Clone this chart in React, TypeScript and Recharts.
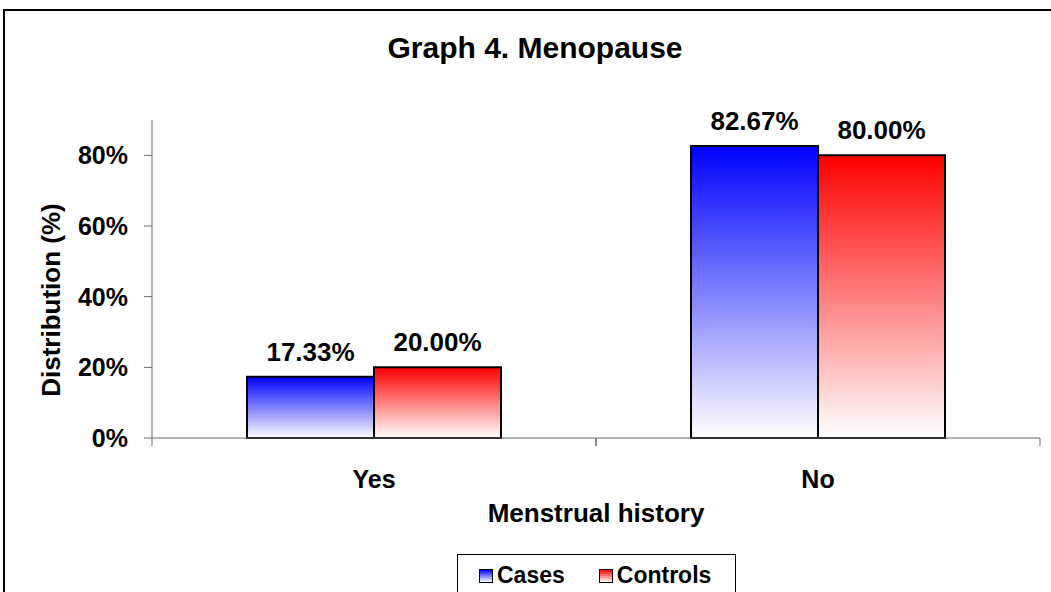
import React from "react";
import { BarChart, Bar, XAxis, YAxis, LabelList, Legend } from "recharts";

const categories = ["Yes", "No"];
const casesValues = [17.33, 82.67];
const controlsValues = [20.0, 80.0];
const yTicks = [0, 20, 40, 60, 80];

const data = categories.map((name, i) => ({
  name,
  Cases: casesValues[i],
  Controls: controlsValues[i],
}));

const FONT = '"Liberation Sans", Arial, sans-serif';
const W = 1051;
const H = 592;
const Y_AXIS_W = 152;
const RIGHT = 11;
const BAND = (W - Y_AXIS_W - RIGHT) / categories.length;

const series = [
  { key: "Cases", color: "#0000ff", grad: "gradBlue" },
  { key: "Controls", color: "#ff0000", grad: "gradRed" },
];

const XTick = (props: any) => {
  const { x, y, payload } = props;
  return (
    <g>
      <line x1={x - BAND / 2} y1={y} x2={x - BAND / 2} y2={y + 8} stroke="#666" />
      <line x1={x + BAND / 2} y1={y} x2={x + BAND / 2} y2={y + 8} stroke="#666" />
      <text
        x={x}
        y={y + 50}
        textAnchor="middle"
        fontFamily={FONT}
        fontWeight="bold"
        fontSize={25}
        fill="#000"
      >
        {payload.value}
      </text>
    </g>
  );
};

const renderLegend = () => (
  <div
    style={{
      width: 279,
      height: 60,
      border: "1px solid #000",
      background: "#fff",
      fontFamily: FONT,
      fontWeight: "bold",
      fontSize: 23,
      display: "flex",
      alignItems: "flex-start",
      paddingTop: 7,
      boxSizing: "border-box",
    }}
  >
    {series.map((s, i) => (
      <div
        key={s.key}
        style={{
          display: "flex",
          alignItems: "center",
          marginLeft: i === 0 ? 21 : 34,
        }}
      >
        <span
          style={{
            display: "inline-block",
            width: 12,
            height: 12,
            border: "1.5px solid #000",
            background: `linear-gradient(to bottom, ${s.color}, #ffffff)`,
            marginRight: 4,
          }}
        />
        <span>{s.key}</span>
      </div>
    ))}
  </div>
);

const App: React.FC = () => {
  return (
    <div
      style={{
        position: "absolute",
        left: 0,
        top: 0,
        width: W,
        height: H,
        overflow: "hidden",
        background: "#fff",
      }}
    >
      <div
        style={{
          position: "absolute",
          left: 3,
          top: 9,
          width: 1100,
          height: 700,
          border: "2px solid #000",
          boxSizing: "border-box",
        }}
      />
      <div
        style={{
          position: "absolute",
          left: 0,
          width: 1070,
          top: 30,
          textAlign: "center",
          fontFamily: FONT,
          fontWeight: "bold",
          fontSize: 30,
          lineHeight: "36px",
        }}
      >
        Graph 4. Menopause
      </div>
      <div style={{ position: "absolute", left: 0, top: 0 }}>
        <BarChart
          width={W}
          height={H}
          data={data}
          margin={{ top: 120, right: RIGHT, left: 0, bottom: 0 }}
          barCategoryGap="21.4%"
          barGap={0}
        >
          <defs>
            {series.map((s) => (
              <linearGradient key={s.grad} id={s.grad} x1="0" y1="0" x2="0" y2="1">
                <stop offset="0%" stopColor={s.color} />
                <stop offset="100%" stopColor="#ffffff" />
              </linearGradient>
            ))}
          </defs>
          <XAxis
            dataKey="name"
            height={H - 438}
            stroke="#666"
            tickLine={false}
            tickSize={0}
            tickMargin={0}
            tick={<XTick />}
            label={{
              value: "Menstrual history",
              position: "insideBottom",
              offset: 70,
              fill: "#000",
              fontFamily: FONT,
              fontWeight: "bold",
              fontSize: 26,
            }}
          />
          <YAxis
            width={Y_AXIS_W}
            domain={[0, 90]}
            ticks={yTicks}
            stroke="#666"
            tickSize={8}
            tickMargin={16}
            tickFormatter={(v: number) => `${v}%`}
            tick={{ fill: "#000", fontFamily: FONT, fontWeight: "bold", fontSize: 25 }}
            label={{
              content: (p: any) => {
                const vb = p.viewBox;
                const cx = vb.x + 51;
                const cy = vb.y + vb.height / 2 + 21;
                return (
                  <text
                    x={cx}
                    y={cy}
                    transform={`rotate(-90 ${cx} ${cy})`}
                    textAnchor="middle"
                    dominantBaseline="central"
                    fontFamily={FONT}
                    fontWeight="bold"
                    fontSize={26}
                    fill="#000"
                  >
                    Distribution (%)
                  </text>
                );
              },
            }}
          />
          <Legend
            layout="horizontal"
            verticalAlign="middle"
            align="center"
            content={renderLegend}
            wrapperStyle={{ left: 457, top: 554, width: 279 }}
          />
          {series.map((s) => (
            <Bar
              key={s.key}
              dataKey={s.key}
              fill={`url(#${s.grad})`}
              stroke="#000"
              strokeWidth={2}
              isAnimationActive={false}
            >
              <LabelList
                dataKey={s.key}
                position="top"
                offset={16}
                formatter={(v: any) => `${Number(v).toFixed(2)}%`}
                fill="#000"
                fontFamily={FONT}
                fontWeight="bold"
                fontSize={26}
              />
            </Bar>
          ))}
        </BarChart>
      </div>
    </div>
  );
};

export default App;
